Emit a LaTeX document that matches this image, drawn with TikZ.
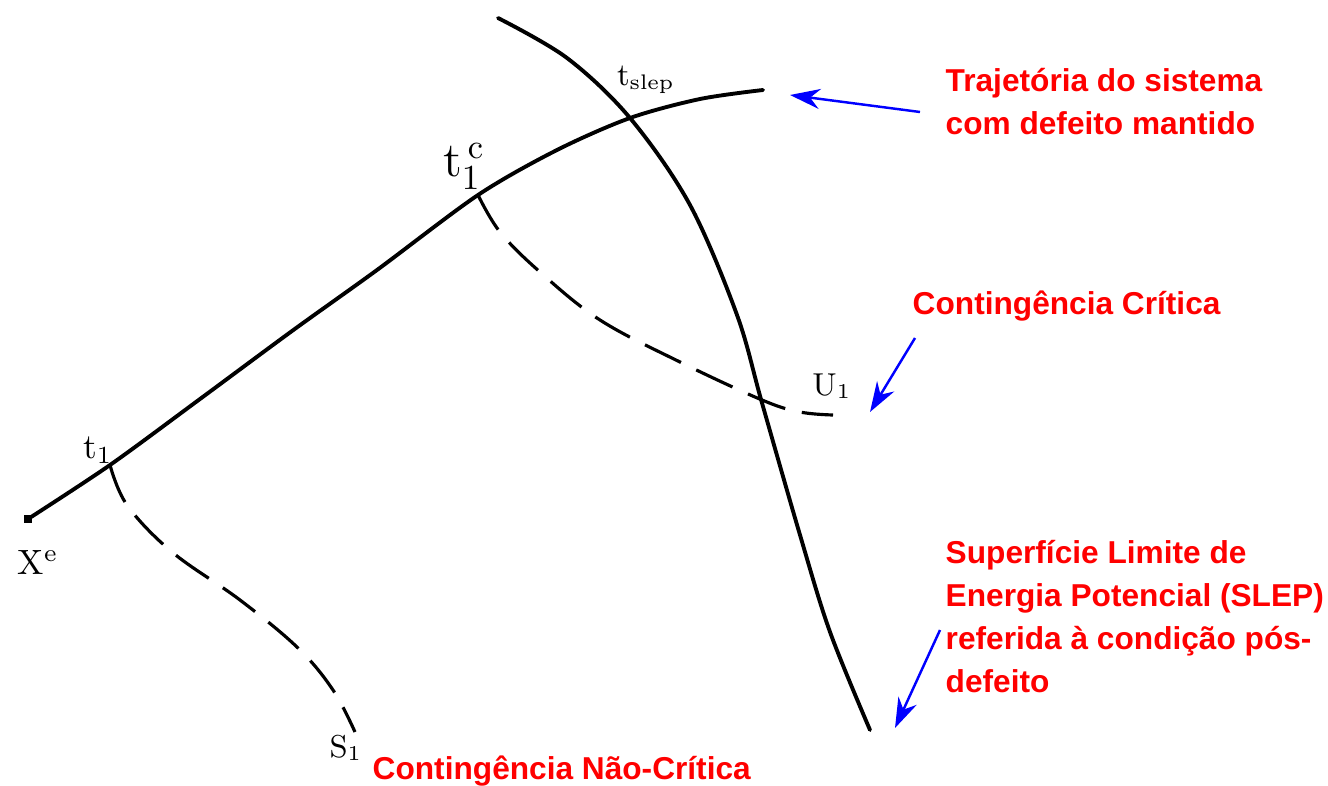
\documentclass[tikz,border=0pt]{standalone}
\usepackage{fontspec}
\newfontfamily\labelfont{Liberation Sans}
\usetikzlibrary{arrows.meta}

\begin{document}
\begin{tikzpicture}[
    x=0.01cm, y=-0.01cm,
    >={Stealth[length=0.3cm, width=0.2cm]},
    curve/.style={line width=1.1pt, line cap=round},
    dashcurve/.style={line width=0.9pt, dash pattern=on 0.4cm off 0.17cm},
    note/.style={align=left, anchor=north west, inner sep=0pt, text=red,
                 font=\labelfont\fontsize{9}{12.2}\selectfont\bfseries},
    mlabel/.style={inner sep=0pt, font=\fontsize{10}{12}\selectfont},
    pointer/.style={->, blue, line width=0.7pt}
]
  \useasboundingbox (0,0) rectangle (1328,785);

  % key points
  \coordinate (xe) at (28,519);
  \coordinate (t1) at (110,465);
  \coordinate (t1c) at (478,195);
  \coordinate (tslep) at (630,118);
  \coordinate (trajend) at (763,90);
  \coordinate (u1) at (833,415);
  \coordinate (s1) at (355,732);
  \coordinate (slepend) at (870,730);

  % trajectory with sustained fault
  \draw[curve] plot[smooth, tension=0.5] coordinates {(xe) (t1) (200,399) (292,331) (377,270) (t1c) (557,150) (tslep) (700,99) (trajend)};
  \fill (xe) ++(-4,-4) rectangle ++(8,8);

  % SLEP
  \draw[curve] plot[smooth, tension=0.55] coordinates {(498,18) (567,58) (tslep) (690,205) (737,315) (762,403) (800,535) (830,632) (slepend)};

  % critical / non-critical contingency
  \draw[dashcurve] plot[smooth, tension=0.6] coordinates {(t1c) (500,232) (540,272) (600,320) (680,362) (762,400) (800,412) (u1)};
  \draw[dashcurve] plot[smooth, tension=0.6] coordinates {(t1) (127,505) (172,552) (240,600) (298,648) (333,690) (s1)};

  % point labels
  \node[mlabel] (lxe) at (38,562) {$\mathrm{X}^{\mathrm{e}}$};
  \node[mlabel] (lt1) at (98,450) {$\mathrm{t}_1$};
  \node[mlabel, font=\fontsize{14}{16}\selectfont] (lt1c) at (464,166) {$\mathrm{t}_1^{\,\mathrm{c}}$};
  \node[mlabel, font=\fontsize{9}{11}\selectfont] (ltslep) at (646,80) {$\mathrm{t}_{\mathrm{slep}}$};
  \node[mlabel, font=\fontsize{9}{11}\selectfont] (lu1) at (832,386) {$\mathrm{U}_1$};
  \node[mlabel, font=\fontsize{9}{11}\selectfont] (ls1) at (346,748) {$\mathrm{S}_1$};

  % notes
  \node[note] (ntraj) at (945,68) {Trajetória do sistema\\com defeito mantido};
  \node[note] (ncrit) at (912,290) {Contingência Crítica};
  \node[note] (nslep) at (945,540) {Superfície Limite de\\Energia Potencial (SLEP)\\referida à condição pós-\\defeito};
  \node[note] (nncrit) at (372,755) {Contingência Não-Crítica};

  \coordinate (ptraj) at (920,112);
  \coordinate (pcrit) at (915,338);
  \coordinate (pslep) at (940,630);
  \draw[pointer] (ptraj) -- (790,95);
  \draw[pointer] (pcrit) -- (870,412);
  \draw[pointer] (pslep) -- (895,728);
\end{tikzpicture}
\end{document}
